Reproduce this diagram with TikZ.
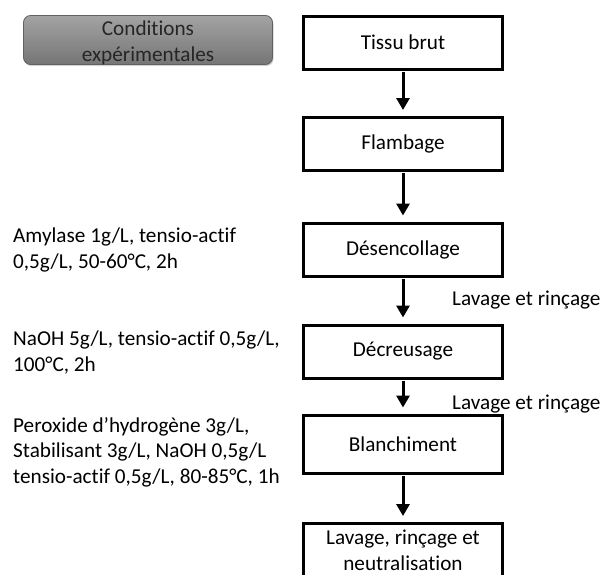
\documentclass[tikz,border=0pt]{standalone}
\usepackage{fontspec}
\setmainfont{Carlito}[Ligatures=NoCommon]
\usetikzlibrary{arrows.meta,shadows}
\begin{document}
\begin{tikzpicture}[x=1pt,y=-1pt,
  every node/.style={font=\fontsize{21.2}{25.5}\selectfont, inner sep=0pt},
  stepbox/.style={draw, line width=3pt, minimum width=199pt, minimum height=53pt, align=center, fill=white},
  flow/.style={line width=3pt, -{Triangle[width=13pt,length=12pt]}, shorten <=1pt, shorten >=6pt},
  cond/.style={anchor=west, align=left},
  wash/.style={anchor=west},
  btn/.style={draw=black!62, line width=0.8pt, rounded corners=7pt, minimum width=249pt, minimum height=49pt,
    top color=black!36, bottom color=black!54,
    drop shadow={shadow xshift=1pt, shadow yshift=-1.5pt, opacity=0.35}},
  btntext/.style={align=center, text=black!85}
]
\useasboundingbox (0,0) rectangle (602,574);
\clip (0,0) rectangle (602,574);

\node[btn] (btn) at (148,40) {};
\node[btntext] (btnlabel) at (btn.center) [yshift=-3pt] {Conditions\\expérimentales};

\node[stepbox] (s1) at (403,42.5) {Tissu brut};
\node[stepbox] (s2) at (403,144) {Flambage};
\node[stepbox] (s3) at (403,249.5) {Désencollage};
\node[stepbox] (s4) at (403,351.5) {Décreusage};
\node[stepbox, minimum height=58pt] (s5) at (403,444) {Blanchiment};
\node[stepbox, minimum height=54pt] (s6) at (403,550.5) {Lavage, rinçage et\\neutralisation};

\draw[flow] (s1) -- (s2);
\draw[flow] (s2) -- (s3);
\draw[flow] (s3) -- (s4);
\draw[flow] (s4) -- (s5);
\draw[flow] (s5) -- (s6);

\node[wash] (w1) at (452,300) {Lavage et rinçage};
\node[wash] (w2) at (452,404) {Lavage et rinçage};

\node[cond] (c1) at (13,250) {Amylase 1g/L, tensio-actif\\0,5g/L, 50-60°C, 2h};
\node[cond] (c2) at (13,352.5) {NaOH 5g/L, tensio-actif 0,5g/L,\\100°C, 2h};
\node[cond] (c3) at (13,452) {Peroxide d’hydrogène 3g/L,\\Stabilisant 3g/L, NaOH 0,5g/L\\tensio-actif 0,5g/L, 80-85°C, 1h};
\end{tikzpicture}
\end{document}
